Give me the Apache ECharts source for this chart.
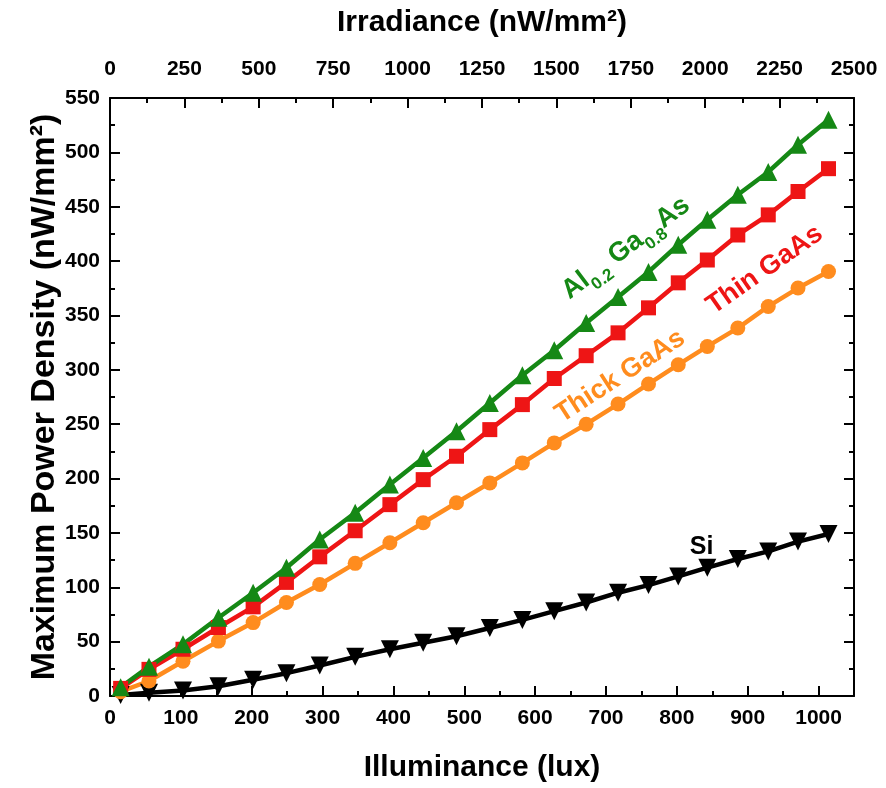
<!DOCTYPE html>
<html>
<head>
<meta charset="utf-8">
<script src="https://cdn.jsdelivr.net/npm/echarts@6/dist/echarts.min.js"></script>
<style>
  html, body { margin: 0; padding: 0; background: #fff; }
  #chart { width: 886px; height: 788px; }
</style>
</head>
<body>
<div id="chart"></div>
<script>
// Illuminance (lux) of each measurement
const illuminance = [15, 55, 103, 153, 202, 249, 296, 346, 395, 442, 489, 536, 582, 627, 672, 717, 760, 802, 843, 886, 929, 971, 1014];

// Maximum power density (nW/mm^2) for each cell
const alGaAs   = [8, 27, 47.5, 72, 95, 118, 144, 168.5, 194.5, 219, 243.5, 269.5, 295, 318, 343, 367, 390, 415, 438, 461, 482, 507, 530];
const thinGaAs = [7, 24.5, 43, 63, 82, 104.5, 128, 152, 176, 199, 220.5, 245, 268, 292, 313, 334, 357, 380, 401, 424, 442.5, 464, 485];
const thickGaAs = [4, 13.8, 32, 50.5, 67.5, 86, 102.6, 122, 141, 159.3, 177.7, 196, 214.4, 232.8, 250, 268.5, 287, 304.7, 321.5, 338.4, 358.3, 375.2, 390.4];
const silicon  = [1, 3, 5, 9, 15, 21, 28, 36, 43, 49, 55, 62.5, 70, 78, 86, 95, 102, 110, 118, 126, 133, 142, 149];

// Axis ranges
const luxRange = [0, 1050];
const irradianceRange = [0, 2500];
const powerRange = [0, 550];

const GREEN = '#158815', RED = '#ee1515', ORANGE = '#ff8c1e', BLACK = '#000000';
const FONT = 'Liberation Sans, Arial, sans-serif';

const pairs = (ys) => illuminance.map((x, i) => [x, ys[i]]);

const chart = echarts.init(document.getElementById('chart'), null, { renderer: 'canvas' });

const tickLabel = {
  color: '#000', fontFamily: FONT, fontWeight: 'bold', fontSize: 21,
  formatter: (v) => String(v)
};
const axisLine = { show: true, onZero: false, lineStyle: { color: '#000', width: 2 } };
const majorTick = { show: true, inside: true, length: 10, lineStyle: { color: '#000', width: 2 } };
const minorTick = { show: true, splitNumber: 2, length: 5, lineStyle: { color: '#000', width: 2 } };
const titleStyle = (size) => ({ color: '#000', fontFamily: FONT, fontWeight: 'bold', fontSize: size });

function lineSeries(name, data, color, symbol, size, rotate) {
  return {
    name, type: 'line', data: pairs(data), xAxisIndex: 0, yAxisIndex: 0,
    symbol, symbolSize: size, symbolRotate: rotate || 0, showAllSymbol: true,
    lineStyle: { color, width: 4.5 },
    itemStyle: { color, borderWidth: 0 },
    animation: false, clip: true
  };
}

chart.setOption({
  animation: false,
  backgroundColor: '#fff',
  grid: { left: 110, right: 32, top: 98, bottom: 91, containLabel: false },
  xAxis: [
    {
      type: 'value', position: 'bottom', min: luxRange[0], max: luxRange[1], interval: 100,
      name: 'Illuminance (lux)', nameLocation: 'middle', nameGap: 57,
      nameTextStyle: titleStyle(30),
      axisLine, splitLine: { show: false }, axisTick: majorTick, minorTick,
      axisLabel: Object.assign({ margin: 12, showMaxLabel: false }, tickLabel)
    },
    {
      type: 'value', position: 'top', min: irradianceRange[0], max: irradianceRange[1], interval: 250,
      name: 'Irradiance (nW/mm²)', nameLocation: 'middle', nameGap: 60,
      nameTextStyle: titleStyle(30),
      axisLine, splitLine: { show: false }, axisTick: majorTick, minorTick,
      axisLabel: Object.assign({ margin: 18 }, tickLabel)
    }
  ],
  yAxis: [
    {
      type: 'value', position: 'left', min: powerRange[0], max: powerRange[1], interval: 50,
      name: 'Maximum Power Density (nW/mm²)', nameLocation: 'middle', nameGap: 48, nameRotate: 90,
      nameMoveOverlap: false,
      nameTextStyle: titleStyle(34),
      axisLine, splitLine: { show: false }, axisTick: majorTick, minorTick,
      axisLabel: Object.assign({ margin: 10 }, tickLabel)
    },
    {
      type: 'value', position: 'right', min: powerRange[0], max: powerRange[1], interval: 50,
      axisLine, splitLine: { show: false }, axisTick: majorTick, minorTick,
      axisLabel: { show: false }
    }
  ],
  series: [
    lineSeries('Si', silicon, BLACK, 'triangle', 18, 180),
    lineSeries('Thick GaAs', thickGaAs, ORANGE, 'circle', 15),
    lineSeries('Thin GaAs', thinGaAs, RED, 'rect', 15),
    lineSeries('Al0.2Ga0.8As', alGaAs, GREEN, 'triangle', 18)
  ]
});

// Curve labels, anchored in data coordinates
const labels = [
  { at: [728, 412], angle: 37, color: GREEN, size: 27, sub: 17,
    rich: '{m|Al}{s|0.2}{m| Ga}{s|0.8}{m|As}' },
  { at: [924, 392], angle: 35, color: RED, size: 27, rich: '{m|Thin GaAs}' },
  { at: [720, 294], angle: 33, color: ORANGE, size: 27, rich: '{m|Thick GaAs}' },
  { at: [835, 137], angle: 0, color: BLACK, size: 25, rich: '{m|Si}' }
];

chart.setOption({
  graphic: labels.map(l => {
    const p = chart.convertToPixel({ xAxisIndex: 0, yAxisIndex: 0 }, l.at);
    return {
      type: 'text', x: p[0], y: p[1], rotation: l.angle * Math.PI / 180, z: 100,
      style: {
        text: l.rich, align: 'center', verticalAlign: 'middle', fill: l.color,
        rich: {
          m: { fontFamily: FONT, fontWeight: 'bold', fontSize: l.size, lineHeight: 40, fill: l.color, verticalAlign: 'middle' },
          s: { fontFamily: FONT, fontWeight: 'bold', fontSize: l.sub || 16, lineHeight: 40, fill: l.color, verticalAlign: 'bottom' }
        }
      }
    };
  })
});
</script>
</body>
</html>
